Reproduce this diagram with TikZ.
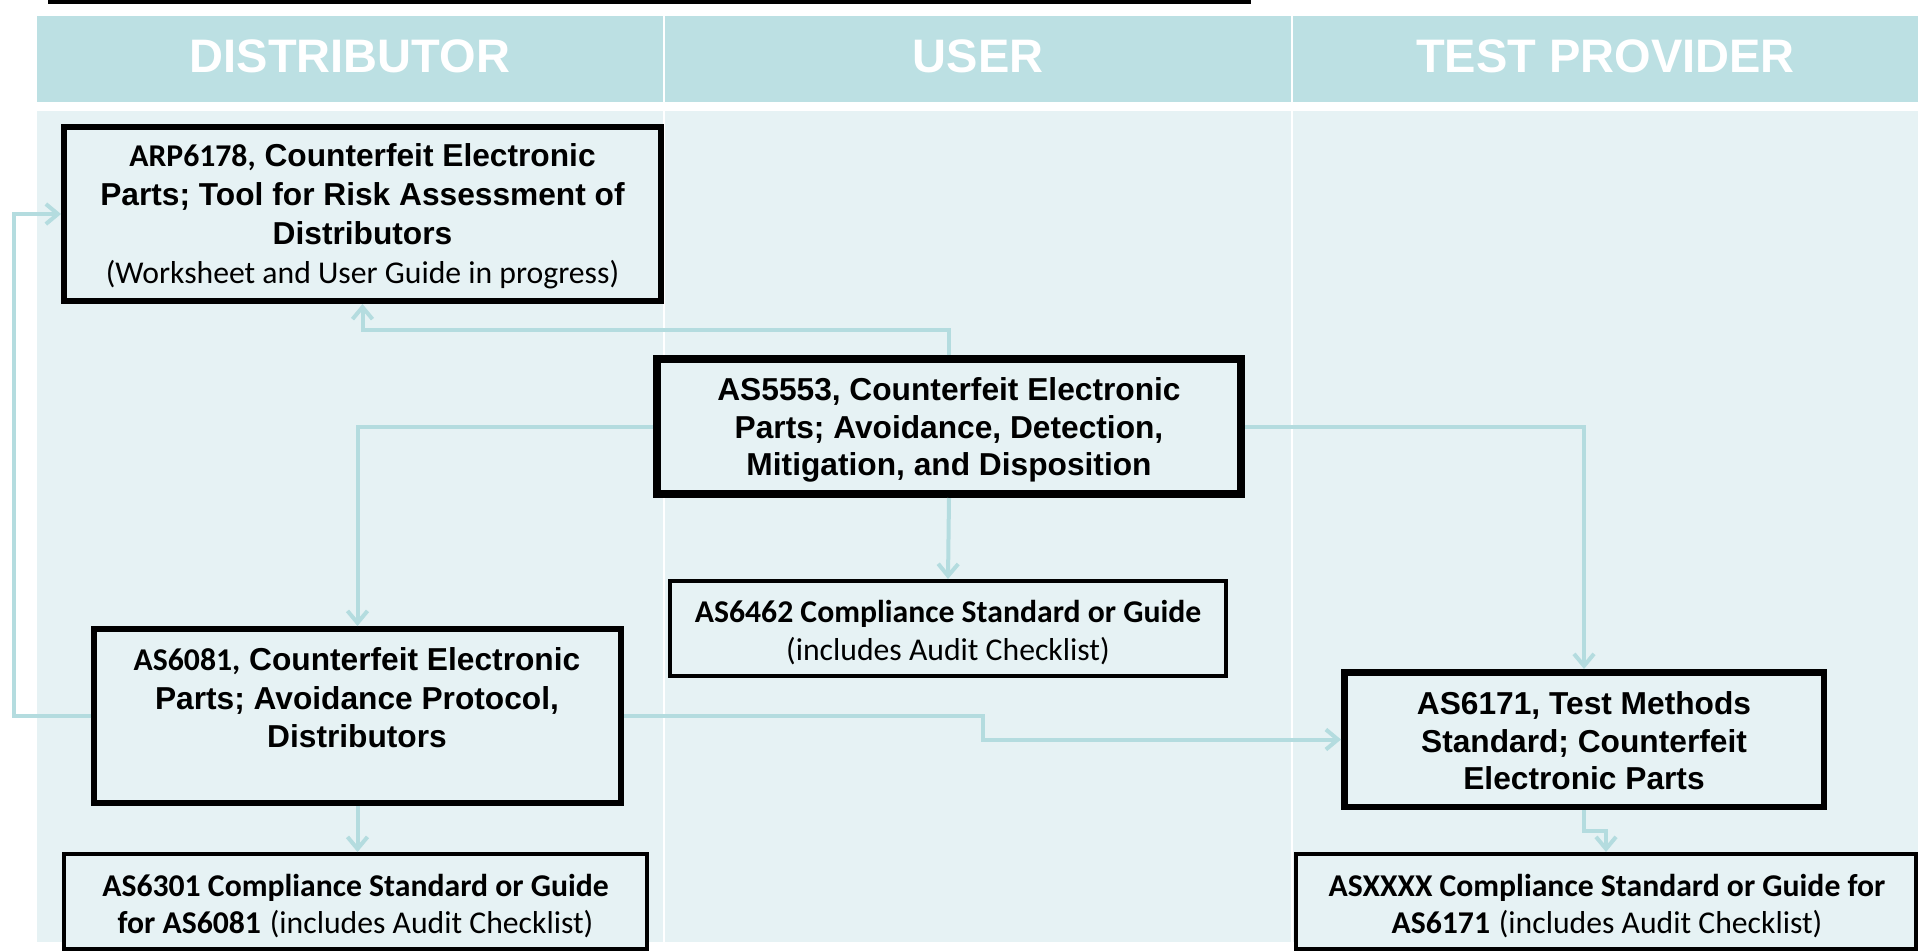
\documentclass[tikz,border=0pt]{standalone}
\usepackage{fontspec}
\setmainfont{Liberation Sans}
\newfontfamily\arf{Liberation Sans}
\newfontfamily\caf{Carlito}
\usetikzlibrary{arrows.meta,calc}
\definecolor{hdr}{HTML}{BCE0E3}
\definecolor{bodyc}{HTML}{E6F2F4}
\definecolor{lnk}{HTML}{B4DCDF}
\tikzset{
  boxnode/.style={draw=black, fill=bodyc, inner sep=0pt},
  hd/.style={anchor=base, text=white, inner sep=0pt, font=\arf\bfseries\fontsize{47}{56}\selectfont},
  tx/.style={align=center, inner sep=0pt, font=\fontsize{31.7}{38}\selectfont},
  cn/.style={draw=lnk, line width=4pt, -{Straight Barb[length=12pt,width=20pt]}},
}
\newcommand{\AB}[1]{{\arf\bfseries #1}}
\newcommand{\CB}[1]{{\caf\bfseries #1}}
\newcommand{\CR}[1]{{\caf #1}}
\begin{document}
\begin{tikzpicture}[x=1pt,y=-1pt]
\path[use as bounding box] (0,0) rectangle (1920,951);
% top bar
\fill[black] (48,0) rectangle (1251,3.5);
% header band
\fill[hdr] (37,16) rectangle (663,102);
\fill[hdr] (665,16) rectangle (1291,102);
\fill[hdr] (1293,16) rectangle (1918,102);
% body
\fill[bodyc] (37,111) rectangle (663,942);
\fill[bodyc] (665,111) rectangle (1291,942);
\fill[bodyc] (1293,111) rectangle (1918,942);
% header text
\node[hd] (h1) at (350,72) {DISTRIBUTOR};
\node[hd] (h2) at (978,72) {USER};
\node[hd] (h3) at (1605.5,72) {TEST PROVIDER};
% boxes
\node[boxnode, line width=6pt, outer sep=3pt, minimum width=597pt, minimum height=174pt] (A) at (362.5,214) {};
\node[boxnode, line width=8pt, outer sep=4pt, minimum width=584pt, minimum height=135pt] (B) at (949,426.5) {};
\node[boxnode, line width=4pt, outer sep=2pt, minimum width=556pt, minimum height=95pt] (C) at (948,628.5) {};
\node[boxnode, line width=6pt, outer sep=3pt, minimum width=527pt, minimum height=174pt] (D) at (357.5,716) {};
\node[boxnode, line width=4pt, outer sep=2pt, minimum width=583pt, minimum height=95pt] (E) at (355.5,901.5) {};
\node[boxnode, line width=6.5pt, outer sep=3.25pt, minimum width=479.5pt, minimum height=134.5pt] (F) at (1584,739.5) {};
\node[boxnode, line width=4pt, outer sep=2pt, minimum width=620pt, minimum height=95pt] (G) at (1606,901.5) {};
% texts
\node[tx, font=\fontsize{31.7}{39}\selectfont] (At) at (362.5,216)
  {\CB{ARP6178,} \AB{Counterfeit Electronic}\\\AB{Parts; Tool for Risk Assessment of}\\\AB{Distributors}\\\CR{(Worksheet and User Guide in progress)}};
\node[tx, font=\fontsize{31.7}{37.5}\selectfont] (Bt) at (949,430)
  {\AB{AS5553, Counterfeit Electronic}\\\AB{Parts; Avoidance, Detection,}\\\AB{Mitigation, and Disposition}};
\node[tx] (Ct) at (948,633)
  {\CB{AS6462 Compliance Standard or Guide}\\\CR{(includes Audit Checklist)}};
\node[tx, font=\fontsize{31.7}{38.5}\selectfont] (Dt) at (357,698)
  {\CB{AS6081,} \AB{Counterfeit Electronic}\\\AB{Parts; Avoidance Protocol,}\\\AB{Distributors}};
\node[tx, font=\fontsize{31.7}{37.5}\selectfont] (Et) at (355.5,906)
  {\CB{AS6301 Compliance Standard or Guide}\\\CB{for AS6081} \CR{(includes Audit Checklist)}};
\node[tx, font=\fontsize{31.7}{37.5}\selectfont] (Ft) at (1584,741)
  {\AB{AS6171, Test Methods}\\\AB{Standard; Counterfeit}\\\AB{Electronic Parts}};
\node[tx, font=\fontsize{31.7}{37.5}\selectfont] (Gt) at (1607,906)
  {\CB{ASXXXX Compliance Standard or Guide for}\\\CB{AS6171} \CR{(includes Audit Checklist)}};
% connectors
\draw[cn] (B.north) |- ($(B.north)!.5!(A.south)$) -| (A.south);
\draw[cn] (B.west) -| (D.north);
\draw[cn] (B.south) -- (C.north);
\draw[cn] (B.east) -| (F.north);
\draw[cn] (D.west) -- ([xshift=-77pt]D.west) |- (A.west);
\draw[cn] (D.east) -| ($(D.east)!.5!(F.west)$) |- (F.west);
\draw[cn] (D.south) -- (D.south |- E.north);
\draw[cn] (F.south) |- ($(F.south)!.5!(G.north)$) -| (G.north);
\end{tikzpicture}
\end{document}
